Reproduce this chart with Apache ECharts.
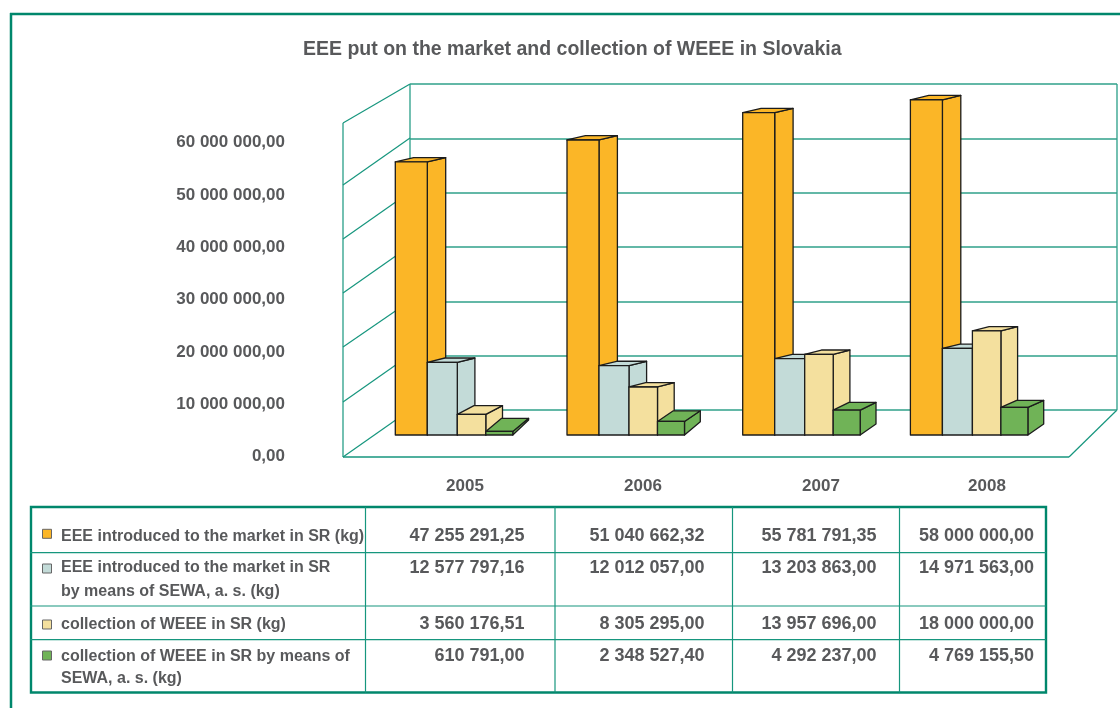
<!DOCTYPE html>
<html>
<head>
<meta charset="utf-8">
<style>html,body{margin:0;padding:0;background:#fff}#c{width:1120px;height:708px}</style>
<script src="https://cdn.jsdelivr.net/npm/echarts@6/dist/echarts.min.js"></script>
</head>
<body>
<div id="c"></div>
<script>
// ---- data ----
const years = ['2005', '2006', '2007', '2008'];
const seriesNames = [
  ['EEE introduced to the market in SR (kg)'],
  ['EEE introduced to the market in SR', 'by means of SEWA, a. s. (kg)'],
  ['collection of WEEE in SR (kg)'],
  ['collection of WEEE in SR by means of', 'SEWA, a. s. (kg)']
];
const eeeMarket = [47255291.25, 51040662.32, 55781791.35, 58000000.00];
const eeeSewa = [12577797.16, 12012057.00, 13203863.00, 14971563.00];
const weeeCollected = [3560176.51, 8305295.00, 13957696.00, 18000000.00];
const weeeSewa = [610791.00, 2348527.40, 4292237.00, 4769155.50];
const allSeries = [eeeMarket, eeeSewa, weeeCollected, weeeSewa];
const yMax = 60000000, yStep = 10000000;
const title = 'EEE put on the market and collection of WEEE in Slovakia';

// ---- style and layout ----
const TXT = '#58595b', TEAL = '#16967e', GRIDC = '#2fa08a', FRAME = '#00876c';
const colors = ['#fbb627', '#c3dbd8', '#f4e09e', '#70b357'];
const FONT = '"Liberation Sans", Arial, sans-serif';
const barW = [32, 30, 28.5, 27];
const barDx = [18.4, 17.6, 16.7, 15.8];
const groupNudge = [0, 0, 4, 0];
const floorDy = [15, 13.3, 11, 11];
const colX = [30, 365.5, 555, 732.5, 899.5, 1046];
const rowY = [507, 552.7, 606, 639.7, 692.5];
const swatchY = [529.3, 564, 620, 651];
const labelY = [[537], [568, 592], [624.5], [656.5, 678.5]];
const valueY = [536.5, 568, 624, 656];
const backLevels = [84, 138, 192, 246, 301, 355, 410];
const frontLevels = [123, 185, 239, 293, 347, 402, 457];

function fmt(v) {
  const p = v.toFixed(2).split('.');
  return p[0].replace(/\B(?=(\d{3})+$)/g, ' ') + ',' + p[1];
}

// ---- static drawing: frame, walls, table ----
function line(x1, y1, x2, y2, color, w) {
  return { type: 'line', silent: true, shape: { x1, y1, x2, y2 }, style: { stroke: color, lineWidth: w } };
}
function text(x, y, str, size, align) {
  return { type: 'text', silent: true, x, y, style: { text: str, fill: TXT, font: 'bold ' + size + 'px ' + FONT, textAlign: align || 'left', textVerticalAlign: 'middle' } };
}
const g = [];
g.push(line(10, 14, 1120, 14, FRAME, 2.5));
g.push(line(11, 13, 11, 708, FRAME, 2.5));
// walls
g.push(line(343, 123, 343, 457, TEAL, 1.2));
g.push(line(410, 84, 410, 410, TEAL, 1.2));
g.push(line(1117, 84, 1117, 410, TEAL, 1.2));
g.push(line(343, 457, 1069, 457, TEAL, 1.6));
g.push(line(1069, 457, 1117, 410, TEAL, 1.2));
frontLevels.forEach((f, i) => g.push(line(343, f, 410, backLevels[i], TEAL, 1.2)));
// table
g.push({ type: 'rect', silent: true, shape: { x: colX[0] + 1, y: rowY[0], width: colX[5] - colX[0] - 1, height: rowY[4] - rowY[0] }, style: { fill: '#fff', stroke: FRAME, lineWidth: 2.4 } });
for (let i = 1; i < 5; i++) g.push(line(colX[i], rowY[0], colX[i], rowY[4], TEAL, 1.2));
for (let i = 1; i < 4; i++) g.push(line(colX[0], rowY[i], colX[5], rowY[i], TEAL, 1.2));
seriesNames.forEach((lines, s) => {
  g.push({ type: 'rect', silent: true, shape: { x: 42.5, y: swatchY[s], width: 9, height: 9 }, style: { fill: colors[s], stroke: '#666', lineWidth: 1 } });
  lines.forEach((t, k) => g.push(text(61, labelY[s][k], t, 16)));
  allSeries[s].forEach((v, c) => g.push(text([524.5, 704.5, 876.5, 1034][c], valueY[s], fmt(v), 18, 'right')));
});

// ---- 3D bars ----
function bar3d(s) {
  return function (params, api) {
    const cat = api.value(0), val = api.value(1);
    const top = api.coord([cat, val]), base = api.coord([cat, 0]);
    let x0 = top[0] - 58.75 + groupNudge[cat];
    for (let i = 0; i < s; i++) x0 += barW[i];
    const x1 = x0 + barW[s], dx = barDx[s];
    const y = top[1], b = base[1], h = b - y;
    const dyTop = Math.max(4.3, 14 - 0.25 * h);
    const dyBase = floorDy[cat];
    const st = { stroke: '#1c1c1c', lineWidth: 1.3, lineJoin: 'round', fill: colors[s] };
    const poly = pts => ({ type: 'polygon', shape: { points: pts }, style: st });
    return {
      type: 'group', children: [
        poly([[x1, b], [x1 + dx, b - dyBase], [x1 + dx, y - dyTop], [x1, y]]),
        poly([[x0, y], [x1, y], [x1 + dx, y - dyTop], [x0 + dx, y - dyTop]]),
        poly([[x0, b], [x1, b], [x1, y], [x0, y]])
      ]
    };
  };
}

const chart = echarts.init(document.getElementById('c'), null, { renderer: 'canvas' });
chart.setOption({
  animation: false,
  backgroundColor: '#fff',
  title: { text: title, left: 298, top: 35, textStyle: { color: TXT, fontFamily: FONT, fontWeight: 'bold', fontSize: 19.5 } },
  graphic: { elements: g },
  grid: [
    { left: 376, width: 712, top: 142.5, height: 314 },   // tick labels
    { left: 410, width: 707, top: 84, height: 326 },    // back wall
    { left: 368.2, width: 686.8, top: 88.2, height: 346.8 } // bars
  ],
  xAxis: [
    {
      gridIndex: 0, type: 'category', data: years, axisLine: { show: false }, axisTick: { show: false },
      axisLabel: {
        margin: 21,
        formatter: v => (v === '2008' ? '{s|' + v + '}' : '{y|' + v + '}'),
        rich: {
          y: { color: TXT, fontFamily: FONT, fontWeight: 'bold', fontSize: 17 },
          s: { color: TXT, fontFamily: FONT, fontWeight: 'bold', fontSize: 17, padding: [0, 24, 0, 0] }
        }
      }
    },
    { gridIndex: 1, type: 'category', data: years, show: false },
    { gridIndex: 2, type: 'category', data: years, show: false }
  ],
  yAxis: [
    {
      gridIndex: 0, type: 'value', min: 0, max: yMax, interval: yStep,
      axisLine: { show: false }, axisTick: { show: false }, splitLine: { show: false },
      axisLabel: { margin: 91, color: TXT, fontFamily: FONT, fontWeight: 'bold', fontSize: 17, formatter: v => fmt(v) }
    },
    {
      gridIndex: 1, type: 'value', min: 0, max: yMax, interval: yStep,
      axisLine: { show: false }, axisTick: { show: false }, axisLabel: { show: false },
      splitLine: { show: true, lineStyle: { color: GRIDC, width: 1.7 } }
    },
    { gridIndex: 2, type: 'value', min: 0, max: yMax, show: false, splitLine: { show: false } }
  ],
  series: allSeries.map((vals, s) => ({
    type: 'custom',
    name: seriesNames[s].join(' '),
    xAxisIndex: 2, yAxisIndex: 2,
    clip: false,
    z: 5 + s,
    encode: { x: 0, y: 1 },
    data: vals.map((v, i) => [i, v]),
    renderItem: bar3d(s)
  }))
});
</script>
</body>
</html>
